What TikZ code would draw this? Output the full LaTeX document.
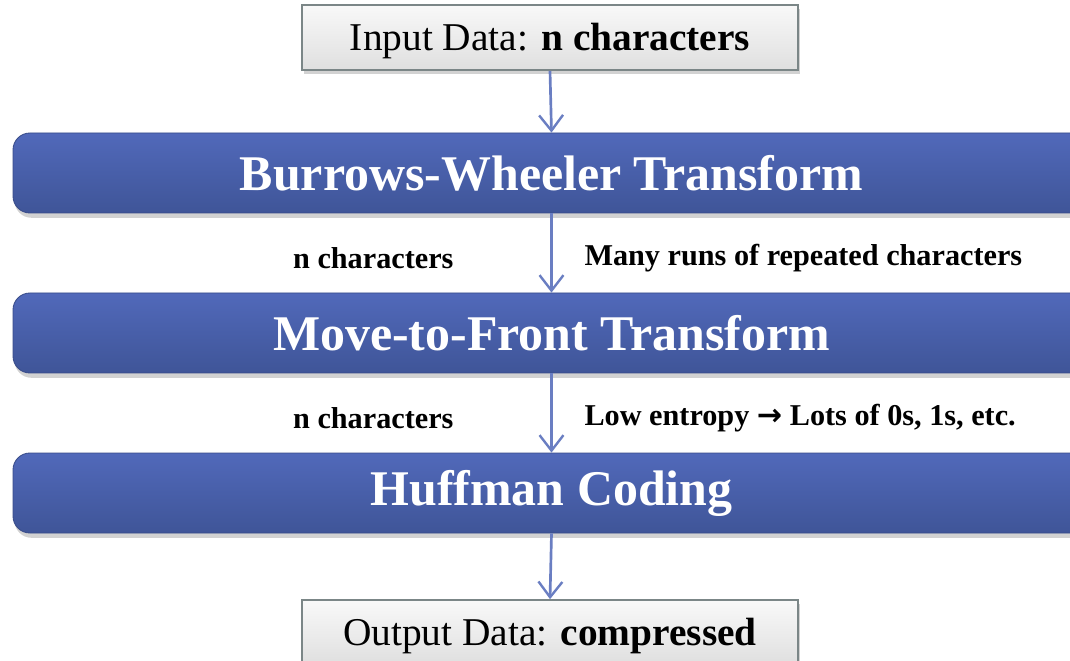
\documentclass[tikz,border=0pt]{standalone}
\usepackage{fontspec}
\setmainfont{Liberation Serif}
\newfontfamily\arrowfont{DejaVu Sans}
\usetikzlibrary{arrows.meta,shadows}
\definecolor{bandtop}{HTML}{5169BA}
\definecolor{bandbot}{HTML}{3F5598}
\definecolor{linkblue}{HTML}{6A7EC2}
\definecolor{boxedge}{HTML}{7B8687}
\tikzset{
  band/.style={rounded corners=12pt, top color=bandtop, bottom color=bandbot,
    draw=bandbot!90!black, line width=0.6pt, minimum width=1077*0.025cm, minimum height=80*0.025cm,
    text=white, font=\fontsize{35.5}{40}\selectfont\bfseries,
    drop shadow={opacity=0.35, shadow xshift=0.4mm, shadow yshift=-1.2mm}},
  databox/.style={draw=boxedge, line width=1.2pt, top color=gray!5, bottom color=gray!25,
    minimum width=496*0.025cm, minimum height=65*0.025cm, font=\fontsize{28}{32}\selectfont,
    text height=24pt, text depth=6pt,
    drop shadow={opacity=0.35, shadow xshift=0.6mm, shadow yshift=-1mm}},
  note/.style={font=\fontsize{21.5}{25}\selectfont\bfseries},
  link/.style={draw=linkblue, line width=1.9pt, -{Straight Barb[length=11pt, width=17pt, line width=1.7pt]}}
}
\begin{document}
\begin{tikzpicture}[x=0.025cm, y=-0.025cm]
\clip (0,0) rectangle (1070,661);
\fill [white] (0,0) rectangle (1070,661);
\node [databox] (inp) at (550,37.5) {Input Data: \textbf{n characters}};
\node [band] (bwt) at (551.5,173) {Burrows-Wheeler Transform};
\node [band] (mtf) at (551.5,333) {Move-to-Front Transform};
\node [band] (huf) at (551.5,493) {Huffman Coding};
\node [databox] (out) at (550,632.5) {Output Data: \textbf{compressed}};
\draw [link] (inp.south) -- (bwt.north);
\draw [link] (bwt.south) -- node [note, pos=0.57, left=92*0.025cm] {n characters}
  node [note, pos=0.57, right=27*0.025cm] {Many runs of repeated characters} (mtf.north);
\draw [link] (mtf.south) -- node [note, pos=0.57, left=92*0.025cm] {n characters}
  node [note, pos=0.57, right=27*0.025cm] {Low entropy {\arrowfont →} Lots of 0s, 1s, etc.} (huf.north);
\draw [link] (huf.south) -- (out.north);
\end{tikzpicture}
\end{document}
